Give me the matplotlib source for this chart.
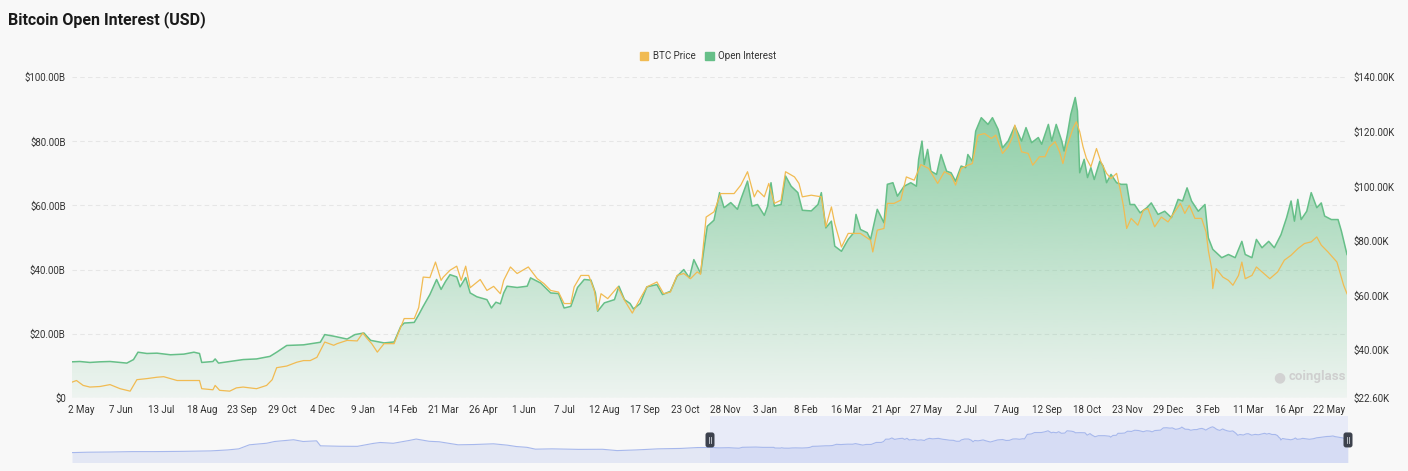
import numpy as np
import pandas as pd
import matplotlib
matplotlib.use("Agg")
import matplotlib.pyplot as plt
import matplotlib.dates as mdates
import matplotlib.colors as mcolors
from matplotlib.patches import FancyBboxPatch, Patch
from matplotlib.transforms import ScaledTranslation

plt.rcParams['font.family'] = ['Roboto', 'DejaVu Sans']

# ---- data (days counted from 2 May 2023) ----
base = pd.Timestamp("2023-05-02")
start_day, end_day = -8, 1132
hist_start_day = -1148

oi_day = [-8, -1, 8, 17, 26, 35, 41, 47, 51, 59, 68, 80, 92, 101, 106, 108, 118, 120, 123, 133,
          145, 157, 169, 175, 184, 199, 214, 218, 226, 238, 245, 253, 259, 271, 280, 286, 289, 298,
          302, 306, 312, 318, 322, 326, 330, 336, 339, 344, 348, 354, 363, 367, 371, 375, 378, 381,
          390, 399, 402, 411, 420, 427, 432, 438, 444, 450, 456, 460, 462, 468, 477, 481, 486, 491,
          494, 500, 506, 515, 520, 527, 533, 539, 544, 548, 554, 557, 560, 566, 571, 575, 581, 587,
          590, 596, 600, 605, 611, 614, 617, 620, 626, 630, 635, 641, 645, 653, 659, 662, 666, 671,
          674, 680, 686, 691, 693, 697, 703, 706, 709, 712, 718, 721, 726, 730, 736, 742, 747, 749,
          752, 754, 757, 760, 765, 769, 774, 778, 782, 787, 791, 793, 797, 800, 805, 811, 815, 820,
          824, 829, 835, 841, 845, 850, 856, 859, 865, 868, 872, 877, 879, 882, 885, 889, 891, 893,
          897, 900, 903, 906, 911, 914, 917, 921, 926, 930, 935, 938, 942, 947, 953, 957, 963, 969,
          975, 981, 985, 989, 993, 999, 1005, 1008, 1012, 1020, 1026, 1032, 1038, 1041, 1047, 1051,
          1056, 1062, 1067, 1073, 1078, 1082, 1085, 1088, 1091, 1096, 1100, 1105, 1109, 1112, 1118,
          1124, 1127, 1132]
oi_bn = [11.2, 11.3, 11.0, 11.2, 11.3, 11.0, 10.8, 11.9, 14.2, 13.8, 13.9, 13.4, 13.6, 14.2, 13.8,
         11.0, 11.3, 12.1, 10.8, 11.3, 11.9, 12.1, 12.9, 14.2, 16.3, 16.5, 17.3, 19.7, 19.2, 18.3,
         19.7, 20.2, 17.9, 17.1, 17.4, 22.3, 23.3, 23.5, 25.9, 28.5, 32.2, 36.9, 33.8, 36.3, 38.4,
         37.7, 34.6, 37.5, 32.7, 31.5, 30.6, 28.0, 29.8, 29.3, 32.7, 34.8, 34.4, 34.8, 37.4, 35.8,
         32.7, 32.5, 28.0, 28.5, 34.4, 36.9, 36.7, 32.7, 27.0, 29.6, 30.6, 34.8, 30.6, 29.4, 27.7,
         29.4, 34.6, 35.3, 32.2, 33.2, 37.9, 40.0, 37.4, 43.1, 38.8, 46.3, 53.5, 55.4, 64.0, 59.3,
         60.9, 58.8, 61.9, 67.6, 59.8, 60.3, 56.9, 59.8, 67.1, 59.8, 60.3, 69.2, 66.0, 64.0, 58.5,
         58.3, 60.3, 64.0, 53.0, 55.1, 47.3, 45.7, 49.4, 51.5, 57.2, 52.5, 51.5, 49.4, 54.1, 58.8,
         54.6, 66.6, 67.1, 62.9, 66.0, 67.1, 66.0, 74.4, 80.1, 72.8, 77.5, 70.7, 69.7, 75.9, 70.7,
         70.2, 67.6, 72.3, 71.8, 75.9, 73.8, 83.2, 87.4, 85.3, 87.4, 83.8, 78.0, 80.1, 84.8, 80.1,
         84.3, 79.6, 81.2, 79.1, 85.3, 80.1, 85.3, 80.1, 77.0, 82.2, 88.4, 93.7, 89.5, 70.2, 74.4,
         68.7, 71.8, 68.1, 73.8, 72.3, 67.1, 69.7, 67.1, 66.6, 66.6, 60.3, 60.3, 57.7, 59.3, 60.8,
         57.2, 58.2, 56.2, 61.9, 61.4, 65.5, 61.4, 58.2, 60.3, 49.9, 46.3, 43.7, 44.7, 43.7, 48.8,
         44.7, 43.7, 49.4, 46.8, 48.8, 46.8, 50.9, 56.2, 61.4, 55.1, 61.9, 55.6, 58.2, 64.0, 59.3,
         60.8, 56.7, 55.6, 55.6, 52.0, 44.7]

px_day = [-8, -4, 2, 8, 17, 26, 35, 44, 50, 59, 68, 74, 86, 98, 106, 108, 118, 120, 124, 133, 139,
          145, 157, 166, 171, 175, 184, 193, 199, 205, 211, 218, 226, 229, 238, 247, 252, 256, 260,
          265, 271, 280, 286, 289, 298, 302, 306, 312, 317, 322, 324, 330, 336, 340, 344, 348, 357,
          363, 369, 375, 378, 384, 390, 400, 408, 414, 420, 427, 432, 438, 441, 447, 454, 459, 462,
          465, 471, 480, 486, 493, 500, 506, 515, 521, 527, 533, 539, 545, 551, 554, 559, 566, 572,
          584, 590, 596, 602, 605, 611, 615, 620, 626, 630, 638, 642, 645, 653, 662, 666, 671, 674,
          680, 686, 691, 697, 706, 708, 712, 718, 721, 727, 733, 738, 745, 751, 758, 766, 772, 778,
          782, 787, 793, 797, 802, 808, 814, 818, 824, 829, 833, 835, 841, 847, 851, 857, 862, 866,
          871, 875, 878, 882, 887, 890, 893, 896, 899, 903, 908, 912, 917, 921, 926, 929, 932, 935,
          939, 945, 950, 954, 960, 966, 972, 978, 983, 987, 991, 996, 1002, 1006, 1008, 1011, 1012,
          1015, 1021, 1026, 1030, 1035, 1038, 1041, 1047, 1051, 1056, 1063, 1070, 1076, 1082, 1088,
          1094, 1100, 1105, 1109, 1115, 1123, 1129, 1132]
px_k = [28.3, 28.9, 27.1, 26.5, 26.7, 27.4, 25.9, 25.0, 29.2, 29.6, 30.1, 30.3, 28.9, 28.9, 28.9,
        25.9, 25.5, 27.1, 25.3, 25.0, 26.2, 26.5, 25.9, 27.1, 29.2, 33.6, 34.2, 35.6, 36.2, 36.2,
        37.4, 43.0, 41.8, 42.4, 43.6, 43.4, 46.3, 44.2, 42.4, 39.3, 42.4, 42.4, 48.5, 51.6, 51.6,
        55.6, 66.8, 66.6, 72.3, 65.6, 66.8, 69.3, 70.8, 65.6, 70.8, 62.9, 65.9, 61.9, 63.4, 60.7,
        65.6, 70.5, 68.1, 70.5, 66.2, 64.4, 61.9, 61.3, 57.1, 57.1, 63.2, 67.4, 67.4, 61.9, 54.6,
        60.7, 58.9, 63.2, 58.3, 53.6, 58.9, 63.2, 65.0, 60.7, 61.3, 67.4, 68.1, 66.2, 68.7, 67.8,
        88.8, 90.7, 97.4, 97.4, 100.5, 105.4, 96.2, 98.6, 96.2, 101.1, 93.8, 95.0, 105.4, 103.5,
        101.1, 96.2, 96.8, 96.2, 85.2, 92.5, 86.4, 77.8, 82.8, 82.8, 82.8, 80.3, 76.0, 84.0, 84.6,
        93.8, 93.8, 95.0, 103.5, 102.3, 108.0, 106.6, 101.1, 105.4, 104.1, 100.5, 106.6, 107.8,
        108.4, 118.8, 119.4, 117.6, 118.8, 112.1, 114.5, 118.2, 122.5, 112.7, 112.1, 107.8, 110.9,
        110.9, 114.5, 116.4, 112.7, 108.4, 115.2, 121.3, 123.7, 120.1, 114.5, 110.3, 107.2, 113.9,
        109.0, 104.8, 102.9, 104.8, 99.3, 93.1, 84.6, 88.3, 85.8, 91.3, 91.9, 85.2, 88.8, 87.0,
        90.7, 93.8, 90.1, 93.1, 88.3, 88.3, 83.3, 76.6, 69.9, 62.6, 69.9, 66.8, 65.6, 63.8, 67.4,
        72.3, 66.2, 67.4, 70.5, 68.7, 66.2, 68.7, 73.0, 74.8, 77.2, 79.1, 79.7, 81.5, 78.5, 76.0,
        72.3, 63.8, 60.7]

# BTC price history shown only in the zoom slider (before the visible window)
hist_day = [-1148, -1120, -1080, -1040, -1000, -950, -900, -870, -850, -831, -800, -786, -752,
            -735, -711, -704, -670, -638, -610, -597, -574, -545, -533, -510, -492, -458, -430,
            -395, -370, -354, -335, -320, -290, -243, -200, -174, -140, -101, -60, -30, -13]
hist_k = [4.7, 6.5, 7.5, 9.3, 9.3, 10.5, 12.6, 17.0, 22.0, 40.7, 48.0, 56.0, 64.0, 56.0, 59.0,
          36.0, 34.0, 33.6, 47.0, 51.4, 47.7, 61.0, 67.3, 57.0, 54.7, 40.7, 42.0, 45.3, 39.0, 32.7,
          29.0, 20.6, 22.0, 19.6, 20.0, 14.0, 17.0, 22.0, 24.0, 28.0, 28.0]

tick_labels = ["2 May", "7 Jun", "13 Jul", "18 Aug", "23 Sep", "29 Oct", "4 Dec", "9 Jan",
               "14 Feb", "21 Mar", "26 Apr", "1 Jun", "7 Jul", "12 Aug", "17 Sep", "23 Oct",
               "28 Nov", "3 Jan", "8 Feb", "16 Mar", "21 Apr", "27 May", "2 Jul", "7 Aug",
               "12 Sep", "18 Oct", "23 Nov", "29 Dec", "3 Feb", "11 Mar", "16 Apr", "22 May"]
left_ticks = [0, 20, 40, 60, 80, 100]
left_labels = ["$0", "$20.00B", "$40.00B", "$60.00B", "$80.00B", "$100.00B"]
right_ticks = [22.6, 40, 60, 80, 100, 120, 140]
right_labels = ["$22.60K", "$40.00K", "$60.00K", "$80.00K", "$100.00K", "$120.00K", "$140.00K"]

# ---- style ----
BG = "#f8f8f8"
GREEN = "#66bf88"
YELLOW = "#f1bb52"
TXT = "#333333"


def to_num(days):
    idx = base + pd.to_timedelta(np.asarray(days), unit="D")
    return mdates.date2num(idx.to_pydatetime())


W, H = 1408, 471
fig = plt.figure(figsize=(W / 100, H / 100), dpi=100, facecolor=BG)

fig.text(8 / W, 1 - 20 / H, "Bitcoin Open Interest (USD)", fontsize=11.5, fontweight="bold",
         color="#1a1a1a", va="center", ha="left")

ax = fig.add_axes([72 / W, 1 - 397.7 / H, (1347 - 72) / W, (397.7 - 77.3) / H])
ax.set_facecolor(BG)
ax2 = ax.twinx()

x0, x1 = to_num([start_day, end_day])
ox = to_num(oi_day)
px = to_num(px_day)

# gradient area under open interest
poly = ax.fill_between(ox, oi_bn, 0, color="none", lw=0)
clip = poly.get_paths()[0]
grad = np.zeros((256, 1, 4))
grad[:, :, :3] = mcolors.to_rgb(GREEN)
grad[:, 0, 3] = np.linspace(0.80, 0.07, 256)
im = ax.imshow(grad, aspect="auto", extent=[x0, x1, 0, 100], origin="upper", zorder=1,
               interpolation="bilinear")
im.set_clip_path(clip, transform=ax.transData)
ax.plot(ox, oi_bn, color=GREEN, lw=1.1, zorder=2)

ax2.plot(px, px_k, color=YELLOW, lw=0.9, zorder=3)

ax.set_xlim(x0, x1)
ax.set_ylim(0, 100)
ax2.set_ylim(22.6, 140)

ax.set_yticks(left_ticks)
ax.set_yticklabels(left_labels)
ax2.set_yticks(right_ticks)
ax2.set_yticklabels(right_labels)
ax.set_xticks(to_num(np.arange(len(tick_labels)) * 36))
ax.set_xticklabels(tick_labels)

ax.grid(axis="y", color="#e6e6e6", lw=0.8, linestyle=(0, (4, 3)))
ax.set_axisbelow(True)
for a in (ax, ax2):
    for s in a.spines.values():
        s.set_visible(False)
ax.tick_params(axis="both", length=0, labelsize=7, labelcolor=TXT)
ax.tick_params(axis="y", pad=4.5)
ax.tick_params(axis="x", pad=5)
ax2.tick_params(axis="y", length=0, labelsize=7, labelcolor=TXT, pad=5)

# legend
handles = [Patch(color=YELLOW, label="BTC Price"), Patch(color=GREEN, label="Open Interest")]
fig.legend(handles=handles, loc="center", bbox_to_anchor=(708 / W, 1 - 56 / H), ncol=2,
           frameon=False, fontsize=7, handlelength=0.9, handleheight=0.9, handletextpad=0.45,
           columnspacing=1.0, labelcolor=TXT)

# watermark
ax.text(0.999, 0.065, "coinglass", transform=ax.transAxes, ha="right", va="center",
        fontsize=9.5, fontweight="bold", color="#cfcfcf", zorder=4)
ax.text(0.947, 0.065, "\u25cf", transform=ax.transAxes, ha="center", va="center",
        fontsize=10, color="#d2d2d2", zorder=4, family="DejaVu Sans")

# ---- zoom slider with price thumbnail ----
sax = fig.add_axes([72 / W, 1 - 462.5 / H, (1348 - 72) / W, (462.5 - 415.5) / H])
sax.axis("off")
sx0 = to_num([hist_start_day])[0]
sax.set_xlim(sx0, x1)
sax.set_ylim(-41, 176)
sax.axvspan(x0, x1, color="#e8ebf8", lw=0, zorder=0)

thumb_x = np.concatenate([to_num(hist_day), px])
thumb_y = np.concatenate([hist_k, px_k])
sax.fill_between(thumb_x, thumb_y, -41, color="#8fa4e6", alpha=0.2, lw=0, zorder=1)
sax.plot(thumb_x, thumb_y, color="#a7b8ec", lw=0.8, zorder=2)

for hx in (x0, x1):
    tr = fig.dpi_scale_trans + ScaledTranslation(hx, 0.48, sax.get_xaxis_transform())
    sax.add_patch(FancyBboxPatch((-0.045, -0.075), 0.09, 0.15,
                                 boxstyle="round,pad=0,rounding_size=0.025",
                                 facecolor="#3d424d", edgecolor="none", transform=tr,
                                 zorder=5, clip_on=False))
    for gx in (-0.012, 0.012):
        sax.plot([gx, gx], [-0.03, 0.03], color="#d0d3da", lw=0.6, transform=tr, zorder=6,
                 clip_on=False)

fig.savefig("out.png", dpi=100, facecolor=BG)
